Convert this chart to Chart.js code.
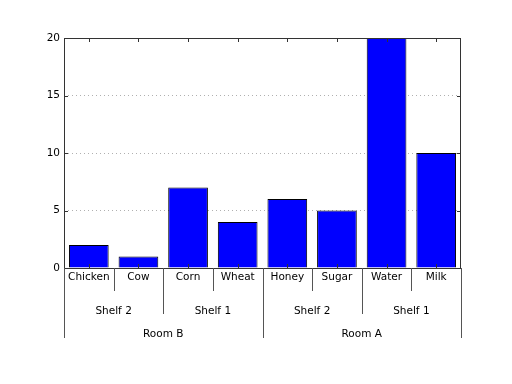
<!DOCTYPE html>
<html>
<head>
<meta charset="utf-8">
<script src="https://cdn.jsdelivr.net/npm/chart.js@4/dist/chart.umd.min.js"></script>
<style>
  html, body { margin: 0; padding: 0; background: #fff; }
  canvas { display: block; }
</style>
</head>
<body>
<canvas id="c" width="512" height="384"></canvas>
<script>
// ---- data ----
const categories = ['Chicken', 'Cow', 'Corn', 'Wheat', 'Honey', 'Sugar', 'Water', 'Milk'];
const values = [2, 1, 7, 4, 6, 5, 20, 10];
const shelfLabels = ['Shelf 2', 'Shelf 1', 'Shelf 2', 'Shelf 1'];
const shelfSpans = [2, 2, 2, 2];
const roomLabels = ['Room B', 'Room A'];
const roomSpans = [4, 4];
const yTicks = [0, 5, 10, 15, 20];

const FONT = '10.5px "DejaVu Sans"';
const FRAME = '#333';

const groupPlugin = {
  id: 'groups',
  afterDraw(chart) {
    const ctx = chart.ctx;
    const a = chart.chartArea;
    const xs = chart.scales.x;
    const ys = chart.scales.y;
    const n = categories.length;
    const bound = k => {
      if (k === 0) return a.left;
      if (k === n) return a.right;
      return (xs.getPixelForValue(k - 1) + xs.getPixelForValue(k)) / 2;
    };
    const shelfB = new Set(); let s = 0; shelfB.add(0);
    shelfSpans.forEach(v => { s += v; shelfB.add(s); });
    const roomB = new Set(); s = 0; roomB.add(0);
    roomSpans.forEach(v => { s += v; roomB.add(s); });

    ctx.save();
    // frame
    ctx.strokeStyle = FRAME;
    ctx.lineWidth = 1;
    ctx.strokeRect(Math.round(a.left) + 0.5, Math.round(a.top) + 0.5,
                   Math.round(a.right - a.left) - 1, Math.round(a.bottom - a.top));
    // ticks top/bottom at categories, left/right at values
    ctx.beginPath();
    for (let i = 0; i < n; i++) {
      const x = Math.round(xs.getPixelForValue(i)) + 0.5;
      ctx.moveTo(x, a.top); ctx.lineTo(x, a.top + 4);
      ctx.moveTo(x, a.bottom); ctx.lineTo(x, a.bottom - 4);
    }
    yTicks.forEach(v => {
      const y = Math.round(ys.getPixelForValue(v)) + 0.5;
      ctx.moveTo(a.left, y); ctx.lineTo(a.left + 4, y);
      ctx.moveTo(a.right, y); ctx.lineTo(a.right - 4, y);
    });
    ctx.stroke();

    // separators
    ctx.strokeStyle = '#555';
    ctx.beginPath();
    for (let k = 0; k <= n; k++) {
      const x = Math.round(bound(k)) + 0.5;
      let yEnd = 291;
      if (roomB.has(k)) yEnd = 338;
      else if (shelfB.has(k)) yEnd = 314;
      ctx.moveTo(x, a.bottom); ctx.lineTo(x, yEnd);
    }
    ctx.stroke();

    // labels
    ctx.fillStyle = '#000';
    ctx.font = FONT;
    ctx.textAlign = 'center';
    ctx.textBaseline = 'middle';
    categories.forEach((c, i) => {
      ctx.fillText(c, (bound(i) + bound(i + 1)) / 2, 277);
    });
    let start = 0;
    shelfSpans.forEach((sp, j) => {
      ctx.fillText(shelfLabels[j], (bound(start) + bound(start + sp)) / 2, 311);
      start += sp;
    });
    start = 0;
    roomSpans.forEach((sp, j) => {
      ctx.fillText(roomLabels[j], (bound(start) + bound(start + sp)) / 2, 334);
      start += sp;
    });
    ctx.restore();
  }
};

new Chart(document.getElementById('c'), {
  type: 'bar',
  data: {
    labels: categories,
    datasets: [{
      data: values,
      backgroundColor: '#0000ff',
      borderColor: '#000',
      borderWidth: 1,
      barPercentage: 0.8,
      categoryPercentage: 1.0
    }]
  },
  options: {
    responsive: false,
    animation: false,
    devicePixelRatio: 1,
    layout: { padding: { top: 38, right: 51, left: 0, bottom: 0 } },
    plugins: { legend: { display: false }, tooltip: { enabled: false } },
    scales: {
      x: {
        type: 'category',
        grid: { display: false },
        border: { display: false },
        ticks: { display: false },
        afterFit(s) { s.height = 116; }
      },
      y: {
        min: 0, max: 20,
        afterBuildTicks(s) { s.ticks = yTicks.map(v => ({ value: v })); },
        ticks: {
          font: { family: 'DejaVu Sans', size: 10.5 },
          color: '#000',
          padding: 4
        },
        grid: {
          drawTicks: false,
          color: c => (c.tick && c.tick.value > 0 && c.tick.value < 20) ? '#b0b0b0' : 'rgba(0,0,0,0)',
          lineWidth: 1
        },
        border: { display: false, dash: [1, 3] },
        afterFit(s) { s.width = 64; }
      }
    }
  },
  plugins: [groupPlugin]
});
</script>
</body>
</html>
